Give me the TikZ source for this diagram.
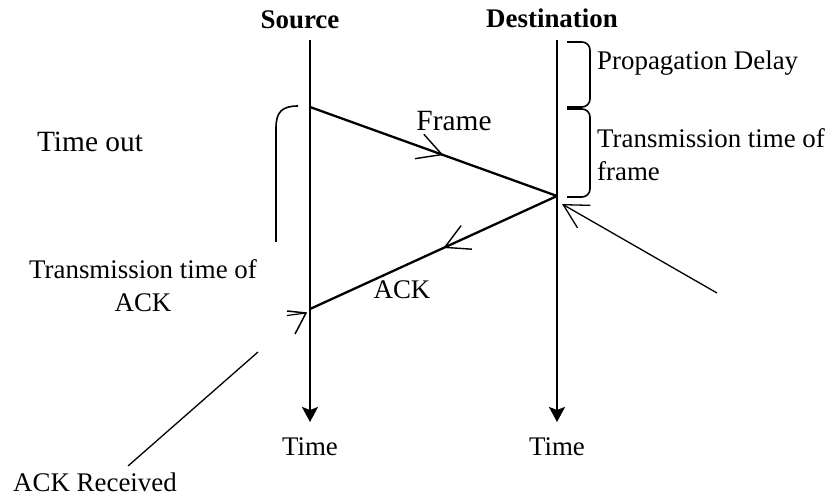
\documentclass[tikz,border=0pt]{standalone}
\usepackage{fontspec}
\setmainfont{Liberation Serif}
\usetikzlibrary{arrows.meta,decorations.markings,calc}
\begin{document}
\begin{tikzpicture}[x=1bp,y=-1bp,
  lbl/.style={font=\fontsize{27}{33}\selectfont, inner sep=0pt},
  big/.style={font=\fontsize{29.5}{33}\selectfont, inner sep=0pt},
  ttl/.style={font=\fontsize{27}{30}\selectfont\bfseries, inner sep=0pt},
  timeline/.style={line width=2.2bp, -{Stealth[length=15bp,width=16bp,inset=3bp]}},
  msg/.style={line width=2.3bp},
  ptr/.style={line width=1.3bp},
  brk/.style={line width=1.6bp, rounded corners=8bp},
  midbarb/.style={postaction={decorate}, decoration={markings,
     mark=at position #1 with {\arrow[line width=1.4bp]{Straight Barb[length=24bp,width=26bp]}}}},
]
\useasboundingbox (0,0) rectangle (836,496);

% titles
\node[ttl] (src) at (300,20) {Source};
\node[ttl] (dst) at (552,18) {Destination};

% time lines
\coordinate (s0) at (310,40); \coordinate (s1) at (310,422);
\coordinate (d0) at (557,40); \coordinate (d1) at (557,422);
\draw[timeline] (s0) -- (s1);
\draw[timeline] (d0) -- (d1);
\node[lbl] (ts) at (310,447) {Time};
\node[lbl] (td) at (557,447) {Time};

% frame and ack
\coordinate (fs) at (310,107);
\coordinate (fd) at (557,196);
\coordinate (as) at (310,309);
\draw[msg, midbarb=0.54] (fs) -- (fd);
\draw[msg, midbarb=0.46] (fd) -- (as);
\node[big] (frm) at (454,121) {Frame};
\node[lbl] (ack) at (402,290) {ACK};

% braces on destination side
\draw[brk] (567,42) -- (590,42) -- (590,107) -- (567,107);
\draw[brk] (567,109) -- (590,109) -- (590,197) -- (567,197);
\node[lbl, anchor=west] (pd) at (597,63) {Propagation Delay};
\node[lbl, anchor=west, align=left] (tf) at (597,155) {Transmission time of\\frame};

% time out bracket
\draw[line width=1.6bp] (298,106) .. controls (282,106) and (276,112) .. (276,128) -- (276,242);
\node[big] (to) at (90,142) {Time out};
\node[lbl, align=center] (ta) at (143,286) {Transmission time of\\ACK};

% right pointer
\coordinate (rp) at (717,293);
\coordinate (rt) at ($(fd)+(5,8)$);
\draw[ptr, -{Straight Barb[length=24bp,width=26bp]}] (rp) -- (rt);

% ACK received pointer
\node[lbl, anchor=base west] (ar) at (13,491) {ACK Received};
\coordinate (p0) at (128,466);
\coordinate (p1) at (258,352);
\coordinate (pt) at (306,313);
\draw[ptr] (p0) -- (p1);
\draw[line width=1.5bp] (287,311) -- (pt) -- (295,334);
\draw[line width=1.2bp] (287,315.5) -- (pt);
\end{tikzpicture}
\end{document}
